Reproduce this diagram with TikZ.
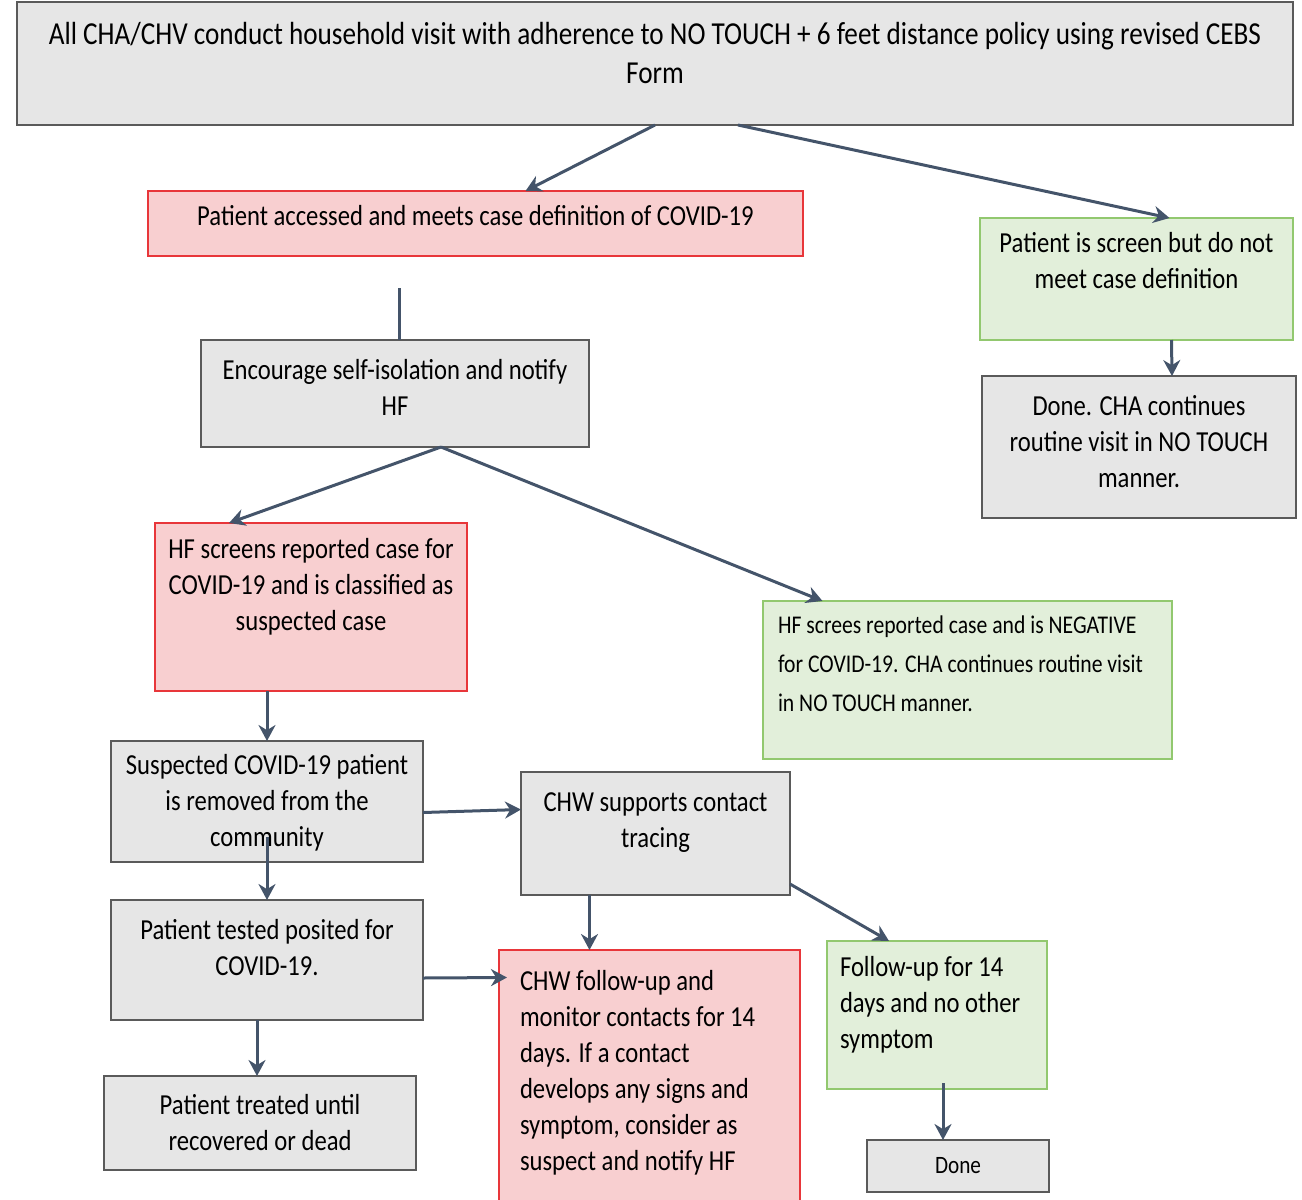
\documentclass[tikz,border=0pt]{standalone}
\usepackage{fontspec}
\setmainfont{Carlito}[FakeStretch=0.85]
\usetikzlibrary{arrows.meta}

\definecolor{boxgray}{HTML}{E6E6E6}
\definecolor{boxline}{HTML}{5A5A5A}
\definecolor{redfill}{HTML}{F8CFD0}
\definecolor{redline}{HTML}{E8363A}
\definecolor{greenfill}{HTML}{E2EFDA}
\definecolor{greenline}{HTML}{92C86F}
\definecolor{arrowblue}{HTML}{44546A}

\begin{document}
\begin{tikzpicture}[x=1pt,y=-1pt,
    every node/.style={font=\fontsize{29}{36}\selectfont, outer sep=0pt, inner sep=0pt},
    greybox/.style={draw=boxline, fill=boxgray, line width=1.6pt, align=center},
    redbox/.style={draw=redline, fill=redfill, line width=1.6pt, align=center},
    greenbox/.style={draw=greenline, fill=greenfill, line width=1.6pt, align=center},
    arr/.style={draw=arrowblue, line width=3pt, -{Stealth[length=16pt,width=17pt]}}]
  \useasboundingbox (0,0) rectangle (1302,1200);

  % boxes
  \node[greybox, minimum width=1276pt, minimum height=123pt, text depth=22pt,
    font=\fontsize{32}{39}\selectfont] (visit) at (655,63.5)
    {All CHA/CHV conduct household visit with adherence to NO TOUCH + 6 feet distance policy using revised CEBS\\Form};
  \node[redbox, minimum width=655pt, minimum height=65pt, text depth=17pt] (caseRed) at (475.5,223.5)
    {Patient accessed and meets case definition of COVID-19};
  \node[greenbox, minimum width=313pt, minimum height=122pt, text depth=37pt] (notCase) at (1136.5,279)
    {Patient is screen but do not\\meet case definition};
  \node[greybox, minimum width=314pt, minimum height=142pt, text depth=11pt] (doneRoutine) at (1139,447)
    {Done. CHA continues\\routine visit in NO TOUCH\\manner.};
  \node[greybox, minimum width=388pt, minimum height=107pt, text depth=12pt] (isolate) at (395,393.5)
    {Encourage self-isolation and notify\\HF};
  \node[redbox, minimum width=312pt, minimum height=168pt, text depth=46pt] (suspect) at (311,607)
    {HF screens reported case for\\COVID-19 and is classified as\\suspected case};
  \node[greenbox, align=flush left, text width=379pt, inner xsep=15pt, minimum height=158pt,
    text height=19pt, text depth=112pt, font=\fontsize{25.5}{39}\selectfont] (negative) at (967.5,680)
    {HF screes reported case and is NEGATIVE\\for COVID-19. CHA continues routine visit\\in NO TOUCH manner.};
  \node[greybox, minimum width=312pt, minimum height=121pt, text depth=3pt] (removed) at (267,801.5)
    {Suspected COVID-19 patient\\is removed from the\\community};
  \node[greybox, minimum width=269pt, minimum height=123pt, text depth=27pt] (tracing) at (655.5,833.5)
    {CHW supports contact\\tracing};
  \node[greybox, minimum width=312pt, minimum height=120pt, text depth=25pt] (tested) at (267,960)
    {Patient tested posited for\\COVID-19.};
  \node[redbox, align=flush left, text width=259pt, inner xsep=21pt, minimum height=255pt,
    text height=22pt, text depth=197pt] (monitor) at (649.5,1077.5)
    {CHW follow-up and\\monitor contacts for 14\\days. If a contact\\develops any signs and\\symptom, consider as\\suspect and notify HF};
  \node[greenbox, align=flush left, text width=194pt, inner xsep=13pt, minimum height=148pt,
    text height=22pt, text depth=100pt] (followUp) at (937,1015)
    {Follow-up for 14\\days and no other\\symptom};
  \node[greybox, minimum width=312pt, minimum height=94pt] (treated) at (260,1123)
    {Patient treated until\\recovered or dead};
  \node[greybox, minimum width=182pt, minimum height=52pt, font=\fontsize{25}{30}\selectfont] (done) at (958,1166)
    {Done};

  \coordinate (gap) at (399,288);

  % connectors
  \draw[arr] (visit.south) -- ([xshift=50pt]caseRed.north);
  \draw[arr] ([xshift=83pt]visit.south) -- ([xshift=33pt]notCase.north);
  \draw[draw=arrowblue, line width=3pt] (gap) -- ([xshift=4pt]isolate.north);
  \draw[arr] ([xshift=35pt]notCase.south) -- ([xshift=33pt]doneRoutine.north);
  \draw[arr] ([xshift=46pt]isolate.south) -- ([xshift=-82pt]suspect.north);
  \draw[arr] ([xshift=46pt]isolate.south) -- ([xshift=-145pt]negative.north);
  \draw[arr] ([xshift=-44pt]suspect.south) -- (removed.north);
  \draw[arr] ([yshift=-35pt]removed.center) -- (tested.north);
  \draw[arr] ([yshift=-11pt]removed.east) -- ([yshift=24pt]tracing.west);
  \draw[arr] ([xshift=-66pt]tracing.south) -- ([xshift=-60pt]monitor.north);
  \draw[arr] ([yshift=11pt]tracing.south east) -- ([xshift=-48pt]followUp.north);
  \draw[arr] ([yshift=-18pt]tested.east) -- ([shift={(8pt,100pt)}]monitor.west);
  \draw[arr] ([xshift=-10pt]tested.south) -- ([xshift=-3pt]treated.north);
  \draw[arr] ([shift={(6pt,6pt)}]followUp.south) -- ([xshift=-15pt]done.north);
\end{tikzpicture}
\end{document}
